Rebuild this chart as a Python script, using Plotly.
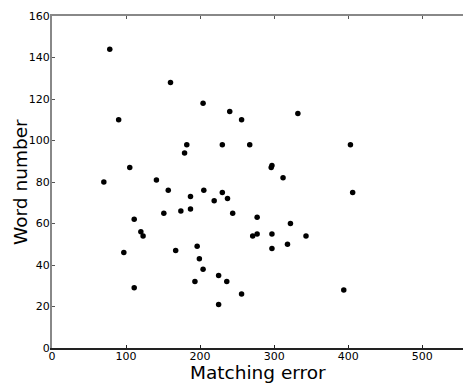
import plotly.graph_objects as go

matching_error = [78, 160, 90, 204, 240, 105, 70, 141, 179, 182, 230, 157, 205, 230,
                  187, 237, 219, 332, 256, 267, 403, 296, 297, 312, 406, 244, 151, 174,
                  187, 111, 120, 123, 97, 167, 196, 199, 204, 193, 225, 236, 111, 225,
                  277, 322, 271, 277, 297, 343, 318, 297, 256, 394]
word_number = [144, 128, 110, 118, 114, 87, 80, 81, 94, 98, 98, 76, 76, 75,
               73, 72, 71, 113, 110, 98, 98, 87, 88, 82, 75, 65, 65, 66,
               67, 62, 56, 54, 46, 47, 49, 43, 38, 32, 35, 32, 29, 21,
               63, 60, 54, 55, 55, 54, 50, 48, 26, 28]

x_ticks = [0, 100, 200, 300, 400, 500]
y_ticks = [0, 20, 40, 60, 80, 100, 120, 140, 160]
x_title = "Matching error"
y_title = "Word number"

FONT = "DejaVu Sans"

fig = go.Figure()
fig.add_trace(go.Scatter(x=matching_error, y=word_number, mode="markers",
                         marker=dict(color="black", size=5.5),
                         showlegend=False, cliponaxis=False))
# invisible trace to activate the top axis
fig.add_trace(go.Scatter(x=[None], y=[None], xaxis="x2", showlegend=False,
                         hoverinfo="skip"))

fig.update_layout(
    width=463, height=385,
    margin=dict(l=52, r=0, t=16, b=37),
    paper_bgcolor="white", plot_bgcolor="white",
    font=dict(family=FONT, color="black", size=11),
    xaxis=dict(range=[0, 555], tickvals=x_ticks, ticks="inside", ticklen=3,
               tickcolor="#222", showgrid=False, zeroline=False,
               showline=True, linecolor="#222", linewidth=1.5,
               tickfont=dict(size=11, family=FONT), ticklabelstandoff=-3,
               automargin=False),
    xaxis2=dict(range=[0, 555], tickvals=x_ticks, ticks="inside", ticklen=3,
                tickcolor="#555", showticklabels=False, overlaying="x",
                side="top", showgrid=False, zeroline=False,
                showline=True, linecolor="#888", linewidth=2),
    yaxis=dict(range=[0, 160], tickvals=y_ticks, ticks="inside", ticklen=3,
               tickcolor="#555", showgrid=False, zeroline=False,
               showline=True, linecolor="#888", linewidth=2,
               tickfont=dict(size=11, family=FONT), ticklabelstandoff=-2,
               automargin=False),
    annotations=[
        dict(text=x_title, xref="paper", yref="paper", x=0.5, y=0,
             xanchor="center", yanchor="top", yshift=-13, borderpad=0,
             showarrow=False,
             font=dict(size=18.5, family=FONT, color="black")),
        dict(text=y_title, xref="paper", yref="paper", x=0, y=0.5,
             xanchor="center", yanchor="middle", xshift=-32, textangle=-90,
             showarrow=False, font=dict(size=18.5, family=FONT, color="black")),
    ],
)

fig.write_html("out.html")
